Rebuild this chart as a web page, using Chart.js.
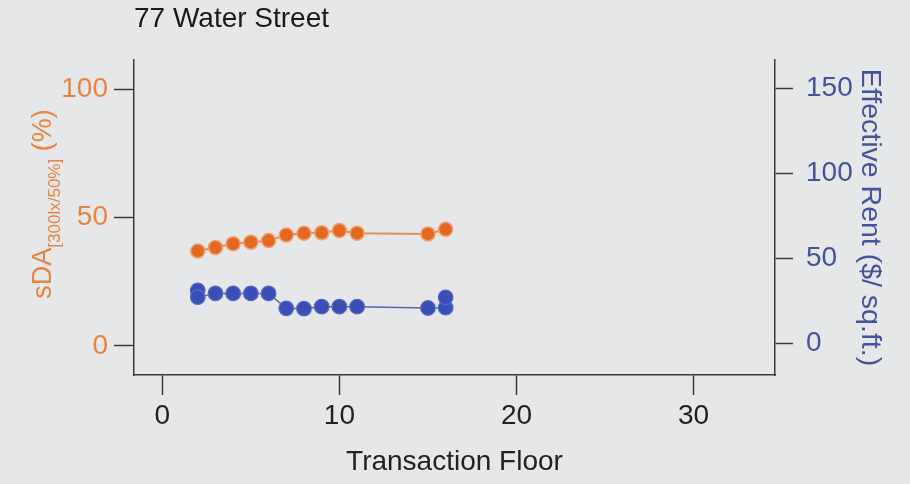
<!DOCTYPE html>
<html>
<head>
<meta charset="utf-8">
<script src="https://cdn.jsdelivr.net/npm/chart.js@4"></script>
<style>
  html, body { margin: 0; padding: 0; background: #e6e7e9; }
  canvas { display: block; }
</style>
</head>
<body>
<canvas id="c" width="910" height="484"></canvas>
<script>
// ---- data ----
const chartTitle = '77 Water Street';
const sdaFloors = [2, 3, 4, 5, 6, 7, 8, 9, 10, 11, 15, 16];
const sdaValues = [37, 38.3, 39.8, 40.4, 41, 43.2, 43.9, 44.1, 44.9, 43.9, 43.6, 45.4];
const rentFloors = [2, 2, 3, 4, 5, 6, 7, 8, 9, 10, 11, 15, 16, 16];
const rentValues = [31, 27, 29.2, 29.2, 29.2, 29.2, 20.4, 20.2, 21.4, 21.4, 21.4, 20.6, 20.8, 26.9];
const xTicks = [0, 10, 20, 30];
const sdaTicks = [0, 50, 100];
const rentTicks = [0, 50, 100, 150];
const xTitle = 'Transaction Floor';
const rentTitle = 'Effective Rent ($/ sq.ft.)';
const sdaTitleMain = 'sDA';
const sdaTitleSub = '[300lx/50%]';
const sdaTitleEnd = ' (%)';

const FONT = "'Liberation Sans', Arial, sans-serif";
const ORANGE = '#e2691f';
const ORANGE_TXT = '#e8843f';
const BLUE = '#3a4fb6';
const BLUE_TXT = '#45539f';
const AXIS = '#3a3a3a';

const toXY = (xs, ys) => xs.map((x, i) => ({ x: x, y: ys[i] }));

const sdaTitlePlugin = {
  id: 'sdaTitle',
  afterDraw(chart) {
    const ctx = chart.ctx;
    ctx.save();
    const mainFont = '27px ' + FONT;
    const subFont = '17px ' + FONT;
    ctx.font = mainFont;
    const w1 = ctx.measureText(sdaTitleMain).width;
    const w3 = ctx.measureText(sdaTitleEnd).width;
    ctx.font = subFont;
    const w2 = ctx.measureText(sdaTitleSub).width;
    const total = w1 + w2 + w3;
    const cy = 204;
    const baseX = 51;
    ctx.translate(baseX, cy + total / 2);
    ctx.rotate(-Math.PI / 2);
    ctx.fillStyle = ORANGE_TXT;
    ctx.textBaseline = 'alphabetic';
    ctx.textAlign = 'left';
    ctx.font = mainFont;
    ctx.fillText(sdaTitleMain, 0, 0);
    ctx.font = subFont;
    ctx.fillText(sdaTitleSub, w1, 9);
    ctx.font = mainFont;
    ctx.fillText(sdaTitleEnd, w1 + w2, 0);
    ctx.restore();
  }
};

new Chart(document.getElementById('c'), {
  type: 'line',
  data: {
    datasets: [
      {
        label: 'sDA',
        data: toXY(sdaFloors, sdaValues),
        yAxisID: 'y',
        showLine: true,
        borderColor: '#e98c52',
        borderWidth: 2,
        pointRadius: 7,
        pointBackgroundColor: ORANGE,
        pointBorderColor: '#f0a070',
        pointBorderWidth: 1.5,
        tension: 0
      },
      {
        label: 'Rent',
        data: toXY(rentFloors, rentValues),
        yAxisID: 'y1',
        showLine: true,
        borderColor: '#5a68a8',
        borderWidth: 1.5,
        pointRadius: 7.3,
        pointBackgroundColor: BLUE,
        pointBorderColor: '#5668c4',
        pointBorderWidth: 1.2,
        tension: 0
      }
    ]
  },
  options: {
    responsive: false,
    animation: false,
    layout: { padding: 0 },
    plugins: {
      legend: { display: false },
      tooltip: { enabled: false },
      title: {
        display: true,
        text: chartTitle,
        align: 'start',
        fullSize: false,
        color: '#1a1a1a',
        font: { family: FONT, size: 28, weight: 'normal' },
        padding: { top: 2, bottom: 24.4 }
      }
    },
    scales: {
      x: {
        type: 'linear',
        position: 'bottom',
        min: -1.6,
        max: 34.6,
        afterBuildTicks: s => { s.ticks = xTicks.map(v => ({ value: v })); },
        afterFit: s => { s.height = 109; },
        grid: { drawOnChartArea: false, drawTicks: true, tickLength: 20, tickColor: AXIS, tickWidth: 1.5 },
        border: { display: true, color: AXIS, width: 1.5 },
        ticks: { color: '#222', font: { family: FONT, size: 28 }, padding: 4, maxRotation: 0 },
        title: { display: true, text: xTitle, color: '#222', font: { family: FONT, size: 28 }, padding: { top: 0, bottom: 5 } }
      },
      y: {
        type: 'linear',
        position: 'left',
        min: -11.3,
        max: 111.3,
        afterBuildTicks: s => { s.ticks = sdaTicks.map(v => ({ value: v })); },
        afterFit: s => { s.width = 134; },
        grid: { drawOnChartArea: false, drawTicks: true, tickLength: 20, tickColor: AXIS, tickWidth: 1.5 },
        border: { display: true, color: AXIS, width: 1.5 },
        ticks: { color: ORANGE_TXT, font: { family: FONT, size: 28 }, padding: 6 },
        title: { display: false }
      },
      y1: {
        type: 'linear',
        position: 'right',
        min: -18.8,
        max: 166.5,
        afterBuildTicks: s => { s.ticks = rentTicks.map(v => ({ value: v })); },
        afterFit: s => { s.width = 135; },
        grid: { drawOnChartArea: false, drawTicks: true, tickLength: 18, tickColor: AXIS, tickWidth: 1.5 },
        border: { display: true, color: AXIS, width: 1.5 },
        ticks: { color: BLUE_TXT, font: { family: FONT, size: 28 }, padding: 13 },
        title: { display: true, text: rentTitle, color: BLUE_TXT, font: { family: FONT, size: 28.5 }, padding: { top: 23, bottom: 0 } }
      }
    }
  },
  plugins: [sdaTitlePlugin]
});
</script>
</body>
</html>
